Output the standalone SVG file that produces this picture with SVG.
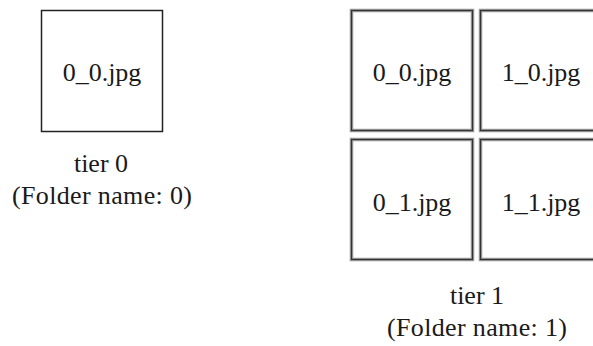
<svg xmlns="http://www.w3.org/2000/svg" width="593" height="346" viewBox="0 0 593 346">
<style>
text{font-family:"Liberation Serif","Times New Roman",serif;font-size:26px;fill:#1a1a1a;text-anchor:middle}
.plain{fill:#fff;stroke:#222;stroke-width:1.5}
.outer{fill:#fff;stroke:#999;stroke-width:3.5}
.inner{fill:none;stroke:#333;stroke-width:1.2}
</style>
<rect width="593" height="346" fill="#fff"/>
<g id="tier0">
<rect class="plain" x="41.5" y="10.5" width="121" height="121"/>
<text x="102" y="81">0_0.jpg</text>
</g>
<g id="tier0-label">
<text x="101" y="172">tier 0</text>
<text x="102" y="204" textLength="180" lengthAdjust="spacing">(Folder name: 0)</text>
</g>
<g id="t1-0_0">
<rect class="outer" x="351.5" y="10.5" width="121" height="120"/>
<rect class="inner" x="351.5" y="10.5" width="121" height="120"/>
<text x="412" y="81">0_0.jpg</text>
</g>
<g id="t1-1_0">
<rect class="outer" x="480.5" y="10.5" width="121" height="120"/>
<rect class="inner" x="480.5" y="10.5" width="121" height="120"/>
<text x="541" y="81">1_0.jpg</text>
</g>
<g id="t1-0_1">
<rect class="outer" x="351.5" y="139.5" width="121" height="120"/>
<rect class="inner" x="351.5" y="139.5" width="121" height="120"/>
<text x="412" y="211">0_1.jpg</text>
</g>
<g id="t1-1_1">
<rect class="outer" x="480.5" y="139.5" width="121" height="120"/>
<rect class="inner" x="480.5" y="139.5" width="121" height="120"/>
<text x="541" y="211">1_1.jpg</text>
</g>
<g id="tier1-label">
<text x="477" y="304">tier 1</text>
<text x="477" y="336" textLength="180" lengthAdjust="spacing">(Folder name: 1)</text>
</g>
<g id="connectors"/>
</svg>
